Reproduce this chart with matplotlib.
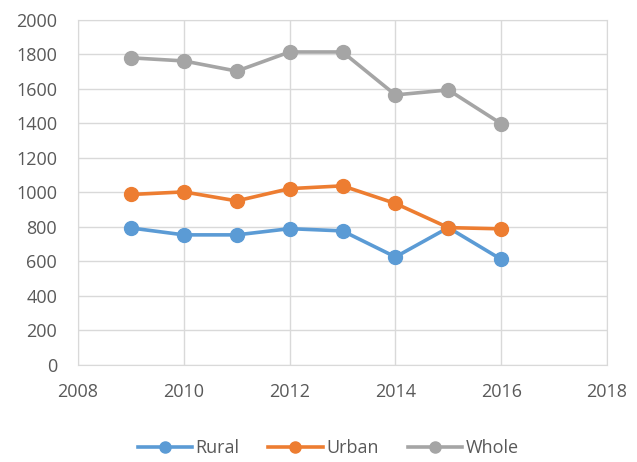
import matplotlib.pyplot as plt

years = [2009, 2010, 2011, 2012, 2013, 2014, 2015, 2016]
rural = [794, 754, 754, 790, 777, 626, 796, 612]
urban = [988, 1003, 951, 1022, 1038, 936, 796, 789]
whole = [1780, 1762, 1703, 1814, 1814, 1565, 1594, 1398]

plt.rcParams['font.family'] = ['Open Sans', 'DejaVu Sans']

fig = plt.figure(figsize=(6.37, 4.62), dpi=100)
ax = fig.add_axes([0.1225, 0.21, 0.8305, 0.747])

ax.plot(years, rural, color='#5B9BD5', lw=2.6, marker='o', ms=10, label='Rural')
ax.plot(years, urban, color='#ED7D31', lw=2.6, marker='o', ms=10, label='Urban')
ax.plot(years, whole, color='#A5A5A5', lw=2.6, marker='o', ms=10, label='Whole')

ax.set_xlim(2008, 2018)
ax.set_ylim(0, 2000)
ax.set_xticks(range(2008, 2019, 2))
ax.set_yticks(range(0, 2001, 200))
ax.grid(True, color='#D9D9D9', lw=1)
ax.set_axisbelow(True)
for s in ax.spines.values():
    s.set_color('#D9D9D9')
ax.tick_params(length=0, labelsize=13, colors='#595959')
ax.tick_params(axis='x', pad=13)
ax.tick_params(axis='y', pad=15)

fig.legend(loc='center', bbox_to_anchor=(0.515, 0.03), ncol=3, frameon=False,
           fontsize=13, labelcolor='#595959', handlelength=3.0, columnspacing=1.6,
           handletextpad=0.2, markerscale=0.8)

fig.savefig('out.png')
